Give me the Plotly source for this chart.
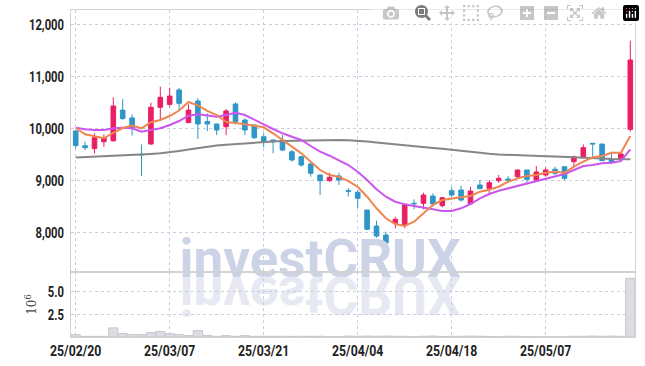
import plotly.graph_objects as go

dates = ["2025-02-20", "2025-02-21", "2025-02-24", "2025-02-25", "2025-02-26", "2025-02-27", "2025-02-28",
         "2025-03-04", "2025-03-05", "2025-03-06", "2025-03-07", "2025-03-10", "2025-03-11", "2025-03-12",
         "2025-03-13", "2025-03-14", "2025-03-17", "2025-03-18", "2025-03-19", "2025-03-20", "2025-03-21",
         "2025-03-24", "2025-03-25", "2025-03-26", "2025-03-27", "2025-03-28", "2025-03-31", "2025-04-01",
         "2025-04-02", "2025-04-03", "2025-04-04", "2025-04-07", "2025-04-08", "2025-04-09", "2025-04-10",
         "2025-04-11", "2025-04-14", "2025-04-15", "2025-04-16", "2025-04-17", "2025-04-18", "2025-04-21",
         "2025-04-22", "2025-04-23", "2025-04-24", "2025-04-25", "2025-04-28", "2025-04-29", "2025-04-30",
         "2025-05-02", "2025-05-07", "2025-05-08", "2025-05-09", "2025-05-12", "2025-05-13", "2025-05-14",
         "2025-05-15", "2025-05-16", "2025-05-19", "2025-05-20"]

open_ = [9948, 9665, 9610, 9742, 9760, 10350, 10200, 9500, 9698, 10404, 10460, 10737, 10110, 10525, 10130,
         10083, 10031, 10467, 10160, 10063, 9838, 9775, 9775, 9550, 9455, 9313, 9102, 8992, 9083, 8800,
         8770, 8429, 8121, 7948, 8173, 8130, 8558, 8558, 8698, 8512, 8800, 8813, 8550, 8910, 8846,
         8992, 9025, 9070, 9198, 9006, 9102, 9212, 9262, 9358, 9435, 9712, 9698, 9404, 9410, 9980]
high = [9960, 9742, 9904, 9885, 10596, 10560, 10270, 9690, 10490, 10800, 10780, 10780, 10460, 10577, 10290,
        10090, 10371, 10500, 10190, 10070, 9904, 9780, 9870, 9580, 9470, 9340, 9110, 9146, 9146, 8852,
        8813, 8429, 8224, 8012, 8300, 8560, 8635, 8762, 8750, 8680, 8865, 8896, 8877, 9006, 9006,
        9102, 9083, 9210, 9200, 9275, 9250, 9262, 9270, 9470, 9690, 9712, 9700, 9550, 9540, 11685]
low = [9615, 9583, 9519, 9646, 9740, 10160, 9860, 9083, 9680, 10160, 10415, 10350, 10100, 9794, 9948,
       9870, 9870, 10070, 9870, 9800, 9635, 9519, 9560, 9360, 9260, 9070, 8717, 8980, 8910, 8685,
       8467, 8045, 7895, 7770, 8077, 8077, 8442, 8442, 8492, 8480, 8685, 8590, 8525, 8827, 8717,
       8954, 8954, 9040, 8954, 9000, 9070, 9102, 9006, 9262, 9420, 9423, 9377, 9313, 9390, 9935]
close = [9670, 9627, 9819, 9819, 10429, 10190, 10000, 9490, 10404, 10596, 10620, 10480, 10350, 10083, 10083,
         9968, 10333, 10128, 9968, 9819, 9742, 9742, 9583, 9390, 9294, 9135, 8992, 9058, 9006, 8790,
         8654, 8058, 7929, 7800, 8250, 8525, 8550, 8717, 8544, 8665, 8717, 8621, 8794, 8840, 8955,
         9038, 9006, 9198, 9019, 9160, 9198, 9135, 9038, 9455, 9627, 9700, 9377, 9352, 9506, 11314]

ma5 = [10006, 9885, 9846, 9808, 9910, 10006, 10054, 10000, 10117, 10160, 10237, 10342, 10506, 10442, 10337,
       10256, 10127, 10096, 10077, 10050, 10019, 9904, 9775, 9635, 9519, 9358, 9198, 9102, 9069, 8986,
       8877, 8685, 8462, 8270, 8160, 8122, 8204, 8365, 8525, 8621, 8654, 8673, 8698, 8781, 8819,
       8877, 8973, 9038, 9083, 9102, 9146, 9165, 9146, 9262, 9358, 9442, 9467, 9531, 9531, 9852]
ma10 = [10012, 9981, 9967, 9967, 10000, 10012, 10000, 9935, 9967, 10000, 10063, 10140, 10242, 10269, 10246,
        10223, 10256, 10300, 10256, 10173, 10077, 9987, 9904, 9838, 9775, 9660, 9550, 9473, 9390, 9294,
        9165, 9006, 8827, 8685, 8588, 8538, 8506, 8481, 8442, 8410, 8410, 8462, 8544, 8654, 8737,
        8800, 8846, 8890, 8929, 8973, 9019, 9069, 9121, 9198, 9275, 9294, 9327, 9338, 9371, 9596]
ma60 = [9438, 9445, 9452, 9460, 9468, 9477, 9487, 9496, 9508, 9520, 9535, 9562, 9592, 9621, 9645,
        9669, 9685, 9700, 9712, 9725, 9737, 9747, 9756, 9760, 9765, 9770, 9775, 9777, 9775, 9772,
        9765, 9748, 9728, 9708, 9690, 9670, 9650, 9635, 9620, 9606, 9592, 9570, 9548, 9525, 9510,
        9496, 9487, 9477, 9472, 9467, 9462, 9457, 9452, 9448, 9438, 9429, 9420, 9410, 9406, 9404]

volume_m = [0.26, 0.07, 0.07, 0.07, 1.0, 0.37, 0.26, 0.26, 0.48, 0.6, 0.37, 0.26, 0.15, 0.7, 0.18,
            0.07, 0.15, 0.07, 0.15, 0.07, 0.08, 0.07, 0.08, 0.07, 0.08, 0.07, 0.08, 0.03, 0.03, 0.1,
            0.08, 0.1, 0.08, 0.1, 0.08, 0.08, 0.02, 0.08, 0.1, 0.06, 0.08, 0.08, 0.1, 0.08, 0.06,
            0.02, 0.08, 0.08, 0.03, 0.02, 0.02, 0.02, 0.02, 0.08, 0.08, 0.1, 0.08, 0.1, 0.08, 6.45]

tick_dates = ["2025-02-20", "2025-03-07", "2025-03-21", "2025-04-04", "2025-04-18", "2025-05-07"]
tick_labels = ["25/02/20", "25/03/07", "25/03/21", "25/04/04", "25/04/18", "25/05/07"]
price_ticks = [8000, 9000, 10000, 11000, 12000]
vol_ticks = [2.5, 5.0]
vol_tick_labels = ["2.5", "5.0"]
watermark = "investCRUX"

UP = "#e91e63"
DOWN = "#2e96c8"
GRID = "#c9cde0"
AXLINE = "#d2d2d2"
LBL = dict(family="Roboto", size=15, color="#222", weight="bold")

fig = go.Figure()

# watermark (main + mirrored reflection), drawn as real text
fig.add_trace(go.Scatter(x=[dates[26]], y=[7400], mode="text", text=[watermark], textposition="middle center",
                         textfont=dict(family="Roboto", size=53, color="rgb(204,211,231)", weight="bold"),
                         cliponaxis=False, hoverinfo="skip", showlegend=False))
fig.add_trace(go.Scatter(x=[dates[26]], y=[7400], mode="text", text=[watermark], textposition="middle center",
                         textfont=dict(family="Roboto", size=53, color="rgb(231,233,242)", weight="bold"),
                         cliponaxis=False, hoverinfo="skip", showlegend=False))

fig.add_trace(go.Candlestick(
    x=dates, open=open_, high=high, low=low, close=close,
    increasing=dict(line=dict(color=UP, width=1), fillcolor=UP),
    decreasing=dict(line=dict(color=DOWN, width=1), fillcolor=DOWN),
    whiskerwidth=0, hoverinfo="skip", showlegend=False))

fig.add_trace(go.Scatter(x=dates, y=ma60, mode="lines", line=dict(color="#868686", width=2),
                         hoverinfo="skip", showlegend=False))
fig.add_trace(go.Scatter(x=dates, y=ma10, mode="lines", line=dict(color="#cc55ee", width=2),
                         hoverinfo="skip", showlegend=False))
fig.add_trace(go.Scatter(x=dates, y=ma5, mode="lines", line=dict(color="#ef8650", width=2),
                         hoverinfo="skip", showlegend=False))

fig.add_trace(go.Bar(x=dates, y=volume_m, xaxis="x2", yaxis="y2",
                     marker=dict(color="#dcdce2", line=dict(color="#c6c6ce", width=1)),
                     hoverinfo="skip", showlegend=False))

main_dom = [65 / 327, 1.0]
vol_dom = [0.0, 65 / 327]

axis_common = dict(showline=True, mirror=True, linecolor=AXLINE, linewidth=1, automargin=False,
                   showgrid=True, gridcolor=GRID, griddash="dot", gridwidth=1, zeroline=False)

fig.update_layout(
    width=645, height=366,
    margin=dict(l=71, r=10, t=10, b=29, autoexpand=False),
    paper_bgcolor="white", plot_bgcolor="white",
    showlegend=False, hovermode=False, bargap=0.02,
    xaxis=dict(type="category", categoryorder="array", categoryarray=dates,
               range=[-0.5, 59.5], domain=[0, 1], anchor="y",
               rangeslider=dict(visible=False), tickvals=tick_dates, ticktext=tick_labels,
               showticklabels=False, ticks="", **axis_common),
    yaxis=dict(domain=main_dom, range=[7237, 12275], tickvals=price_ticks, tickformat=",d",
               tickfont=LBL, ticks="", anchor="x", **axis_common),
    xaxis2=dict(type="category", categoryorder="array", categoryarray=dates,
                range=[-0.5, 59.5], domain=[0, 1], anchor="y2", matches="x",
                tickvals=tick_dates, ticktext=tick_labels, tickfont=LBL, ticks="",
                **axis_common),
    yaxis2=dict(domain=vol_dom, range=[0, 7.15], tickvals=vol_ticks, ticktext=vol_tick_labels,
                tickfont=LBL, ticks="", anchor="x2",
                title=dict(text="10<sup>6</sup>", font=dict(family="DejaVu Serif, serif", size=12, color="#444"),
                           standoff=6),
                **axis_common),
)

post = """
(function(){
  document.documentElement.style.margin = '0';
  document.body.style.margin = '0';
  document.body.style.padding = '0';
  var gd = document.getElementsByClassName('plotly-graph-div')[0];
  function fix(){
    var ts = Array.prototype.filter.call(gd.querySelectorAll('.textpoint text'),
                                         function(t){ return t.textContent === 'investCRUX'; });
    ts.forEach(function(t){
      var tr = t.closest('g.trace');
      var plot = tr && tr.parentNode && tr.parentNode.parentNode;
      if (plot && tr.parentNode.getAttribute('class') !== 'plot' && plot.getAttribute('class') === 'plot') {
        plot.insertBefore(tr, plot.firstChild);
      }
      var fill = (t.style.fill || '') + (t.getAttribute('fill') || '');
      if (fill.indexOf('231, 233') >= 0 && !t.getAttribute('data-flip')) {
        var b = t.getBBox();
        var base = b.y + b.height * 0.792;
        t.setAttribute('transform', 'translate(0,' + (2 * base) + ') scale(1,-1)');
        t.setAttribute('data-flip', '1');
      }
    });
    gd.querySelectorAll('g.ytick, g.y2tick').forEach(function(g){
      var t = g.querySelector('text');
      if (!t) { return; }
      var x = parseFloat(t.getAttribute('x')) || 0;
      var m = /translate\\(\\s*([-\\d.]+)/.exec(t.getAttribute('transform') || '');
      var px = x + (m ? parseFloat(m[1]) : 0);
      g.setAttribute('transform', 'translate(' + (px - 3) + ',0) scale(0.75,1) translate(' + (-px) + ',0)');
    });
    gd.querySelectorAll('.xtick text, .x2tick text').forEach(function(t){
      var tf = t.getAttribute('transform') || '';
      if (tf.indexOf('scale(') >= 0) { return; }
      var x = parseFloat(t.getAttribute('x')) || 0;
      t.setAttribute('transform', tf + ' translate(' + x + ',0) scale(0.82,1) translate(' + (-x) + ',0)');
    });
  }
  fix();
  if (gd.on) { gd.on('plotly_afterplot', fix); }
  setTimeout(fix, 50);
  setTimeout(fix, 300);
  setTimeout(fix, 800);
})();
"""

fig.write_html("out.html", post_script=post)
